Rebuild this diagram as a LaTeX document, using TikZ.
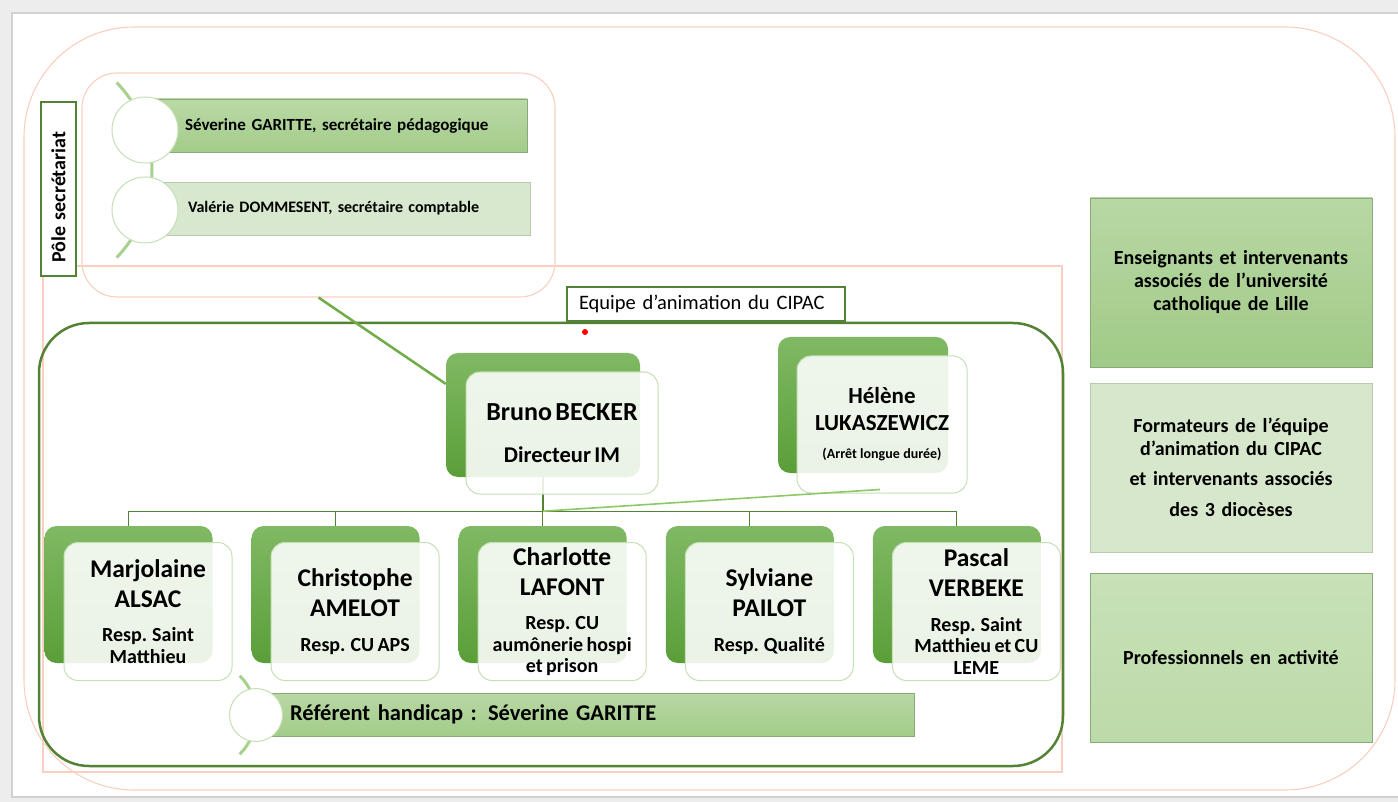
\documentclass[tikz,border=0pt]{standalone}
\usepackage{fontspec}
\setmainfont{Carlito}
\usetikzlibrary{calc}

\definecolor{salmon}{HTML}{F9D0C0}
\definecolor{darkgreen}{HTML}{548235}
\definecolor{midgreen}{HTML}{70AD47}
\definecolor{softgreen}{HTML}{A9D18E}
\definecolor{palegreen}{HTML}{C5E0B4}
\definecolor{linegreen}{HTML}{8CC866}
\definecolor{framegray}{HTML}{EDEDED}
\definecolor{backtop}{HTML}{80B964}
\definecolor{backbot}{HTML}{5A9E38}
\definecolor{boxedge}{HTML}{8AA97A}
\definecolor{listtop}{HTML}{BAD9A6}
\definecolor{listbot}{HTML}{A3CC8A}
\definecolor{listpale}{HTML}{D7E8CE}
\definecolor{sideAtop}{HTML}{B8D8A4}
\definecolor{sideAbot}{HTML}{A0CA87}
\definecolor{sideB}{HTML}{D6E7CC}
\definecolor{sideCtop}{HTML}{C8E1B8}
\definecolor{sideCbot}{HTML}{BDDAA9}

\newcommand\nm{\fontsize{25.5}{30}\selectfont}
\newcommand\rsp{\fontsize{20}{21.5}\selectfont}

\begin{document}
\begin{tikzpicture}[x=1pt, y=-1pt, every node/.style={font=\bfseries, inner sep=0pt}]

\tikzset{
    salmonline/.style={draw=salmon, line width=1.1pt},
    orgline/.style={draw=darkgreen, line width=1.1pt},
    helline/.style={draw=linegreen, line width=1.6pt},
    backbox/.style={rectangle, rounded corners=12pt, top color=backtop, bottom color=backbot, minimum width=168pt, minimum height=137pt},
    frontbox/.style={rectangle, rounded corners=14pt, draw=palegreen, line width=1pt, fill=white, fill opacity=0.88, text opacity=1, inner sep=4pt, text width=160pt, align=center, minimum width=168pt, minimum height=138pt},
    listbox/.style={rectangle, line width=0.9pt, minimum height=53pt, inner xsep=20pt, align=left},
    listdot/.style={circle, draw=palegreen, line width=1pt, fill=white, minimum size=66pt},
    listarc/.style={draw=softgreen, line width=3pt},
    sidebox/.style={rectangle, draw=boxedge, line width=0.9pt, minimum width=282pt, minimum height=169pt, text width=270pt, align=center, font=\bfseries\fontsize{20}{23}\selectfont}
}

\useasboundingbox (0,0) rectangle (1398,802);
\fill[framegray] (0,0) rectangle (1398,802);
\draw[fill=white, draw=black!18, line width=1.5pt] (12,13) rectangle (1420,797);

\draw[salmonline, rounded corners=110pt] (24,27) rectangle (1395,790);
\draw[salmonline] (43,266) rectangle (1062,772);

\node[draw=salmon, line width=1.1pt, rounded corners=35pt, minimum width=473pt, minimum height=224pt] (secr) at (318.5,185) {};
\node[draw=darkgreen, line width=1.2pt, fill=white, rotate=90, minimum height=35pt, text width=148pt, inner xsep=13pt, align=left, font=\bfseries\fontsize{20}{24}\selectfont] (pole) at (58.5,189) {Pôle secrétariat};

\draw[listarc] (26,170) ++(-44:126pt) arc[start angle=-44, end angle=44, radius=126pt];
\node[listbox, draw=boxedge, top color=listtop, bottom color=listbot, text width=342pt, font=\bfseries\fontsize{17}{20}\selectfont] (secA) at (336,125.5) {\hspace*{20pt}Séverine GARITTE, secrétaire pédagogique};
\node[listbox, draw=boxedge!60, fill=listpale, text width=345pt, font=\bfseries\fontsize{16}{19}\selectfont] (secB) at (337.5,208.5) {\hspace*{23pt}Valérie DOMMESENT, secrétaire comptable};
\node[listdot] (dotA) at (145,130) {};
\node[listdot] (dotB) at (145,210) {};

\draw[darkgreen, line width=2.5pt, rounded corners=50pt] (39,323) rectangle (1063,766);
\node[draw=darkgreen, line width=1.2pt, fill=white, minimum width=278pt, minimum height=34pt, text width=254pt, inner xsep=12pt, align=left, font=\fontsize{20.5}{24}\selectfont] (equipe) at (706,304) {Equipe d’animation du CIPAC};
\node[circle, fill=red, minimum size=6pt] (reddot) at (585,332) {};

\node[backbox, minimum width=194pt, minimum height=124pt] (bruB) at (543,415) {};
\coordinate (hub) at ($(bruB.south)+(0,34)$);
\draw[orgline] (bruB.south) -- (hub);
\draw[midgreen, line width=2.5pt] (secr.south) -- ($(bruB.north west)!.25!(bruB.south west)$);
\node[frontbox, minimum width=192pt, minimum height=122pt, text width=184pt] (bruF) at (562,433) {{\fontsize{26}{30}\selectfont Bruno BECKER\par}\vspace{15pt}{\fontsize{22.5}{27}\selectfont Directeur IM\par}};

\node[backbox, minimum width=170pt, minimum height=136pt] (helB) at (863,405) {};
\node[frontbox, minimum width=170pt, minimum height=137pt, text width=162pt] (helF) at (882,424.5) {{\fontsize{23}{27}\selectfont Hélène\\LUKASZEWICZ\par}\vspace{11pt}{\fontsize{14}{17}\selectfont (Arrêt longue durée)\par}};

\foreach \i/\pname/\prole in {
    1/{Marjolaine\\ALSAC}/{Resp. Saint\\Matthieu},
    2/{Christophe\\AMELOT}/{Resp. CU APS},
    3/{Charlotte\\LAFONT}/{Resp. CU\\aumônerie hospi\\et prison},
    4/{Sylviane\\PAILOT}/{Resp. Qualité},
    5/{Pascal\\VERBEKE}/{Resp. Saint\\Matthieu et CU\\LEME}} {
    \node[backbox] (st\i) at ({128.5+207.1*(\i-1)},594.5) {};
    \draw[orgline] (hub) -| (st\i.north);
    \node[frontbox] (sf\i) at ($(st\i)+(19.5,17)$) {{\nm\pname\par}\vspace{13pt}{\rsp\prole\par}};
}

\draw[helline] ($(helF.south)+(-2,-4)$) -- (hub);

\draw[listarc] (200.5,715) ++(-45:55.5pt) arc[start angle=-45, end angle=45, radius=55.5pt];
\node[listbox, draw=boxedge, top color=sideAtop, bottom color=listbot, minimum height=43pt, text width=590pt, inner xsep=34pt, font=\bfseries\fontsize{22.5}{26}\selectfont] (ref) at (585,714.5) {Référent handicap : Séverine GARITTE};
\node[listdot, minimum size=53pt] (dotC) at (256,715) {};

\node[sidebox, top color=sideAtop, bottom color=sideAbot] (side1) at (1231,282.5) {Enseignants et intervenants\\associés de l’université\\catholique de Lille};
\node[sidebox, draw=boxedge!60, fill=sideB] (side2) at (1231,467.5) {Formateurs de l’équipe\\d’animation du CIPAC\par\vspace{7pt}et intervenants associés\par\vspace{8pt}des 3 diocèses};
\node[sidebox, top color=sideCtop, bottom color=sideCbot] (side3) at (1231,657.5) {Professionnels en activité};

\end{tikzpicture}
\end{document}
